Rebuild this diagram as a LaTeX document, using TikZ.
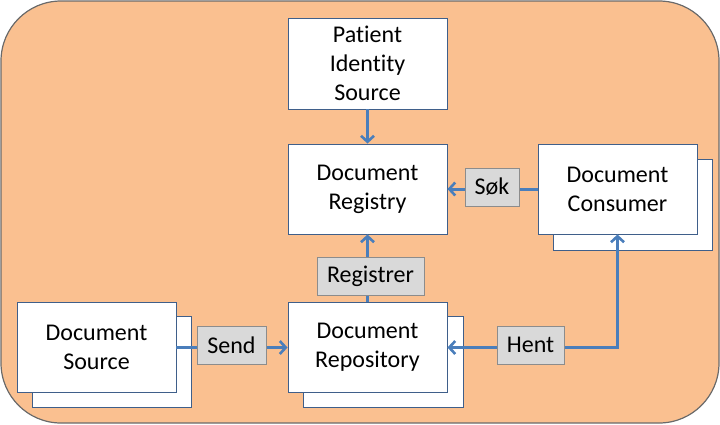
\documentclass[tikz,border=0pt]{standalone}
\usepackage{fontspec}
\setmainfont{Carlito}[Ligatures={NoCommon}]
\usetikzlibrary{arrows.meta}
\definecolor{bgpeach}{HTML}{FAC090}
\definecolor{bgedge}{HTML}{6A6A6A}
\definecolor{linkblue}{HTML}{4A7EBB}
\definecolor{boxedge}{HTML}{3F5F8A}
\definecolor{lblfill}{HTML}{D9D9D9}
\definecolor{lbledge}{HTML}{8C8C8C}
\tikzset{
  actor/.style={draw=boxedge, line width=0.9pt, fill=white, minimum width=159pt, minimum height=90pt,
    align=center, font=\fontsize{24}{29}\selectfont, inner sep=0pt},
  shadowbox/.style={draw=boxedge, line width=0.9pt, fill=white, minimum width=159pt, minimum height=91pt, inner sep=0pt},
  lbl/.style={draw=lbledge, line width=0.9pt, fill=lblfill, minimum height=38pt, inner sep=0pt,
    font=\fontsize{24}{29}\selectfont},
  link/.style={draw=linkblue, line width=3pt, -{Straight Barb[length=6pt,width=13pt,line width=2.6pt]}},
  linkboth/.style={draw=linkblue, line width=3pt, {Straight Barb[length=6pt,width=13pt,line width=2.6pt]}-{Straight Barb[length=6pt,width=13pt,line width=2.6pt]}}
}
\begin{document}
\begin{tikzpicture}[x=1pt,y=-1pt]
\useasboundingbox (0,0) rectangle (720,424);
\draw[fill=bgpeach, draw=bgedge, line width=1.2pt, rounded corners=60pt] (1,1) rectangle (719,423);

% shadow boxes
\node[shadowbox] (consb) at (632.5,204.5) {};
\node[shadowbox, minimum width=160pt] (repb) at (383,361.5) {};
\node[shadowbox] (srcb) at (111.5,361.5) {};

% main boxes
\node[actor, minimum height=91pt] (pis) at (367.5,63.5) {Patient\\Identity\\Source};
\node[actor] (reg) at (367.5,189) {Document\\Registry};
\node[actor] (cons) at (617.5,189) {Document\\Consumer};
\node[actor] (rep) at (367.5,347.5) {Document\\Repository};
\node[actor] (src) at (96.5,347.5) {Document\\Source};

\coordinate (corner) at (cons.south |- rep.east);

% connectors
\draw[link] (pis.south) -- (reg.north);
\draw[link] (cons.west) -- (reg.east);
\draw[link] (rep.north) -- (reg.south);
\draw[link] (src.east) -- (rep.west);
\draw[linkboth, line join=miter] (rep.east) -- (corner) -- (cons.south);

% labels
\node[lbl, minimum width=54pt] (sok) at (492,187) {Søk};
\node[lbl, minimum width=107pt] (regl) at (370.5,276) {Registrer};
\node[lbl, minimum width=67pt] (hent) at (530.5,345) {Hent};
\node[lbl, minimum width=69pt] (send) at (231.5,345) {Send};
\end{tikzpicture}
\end{document}
